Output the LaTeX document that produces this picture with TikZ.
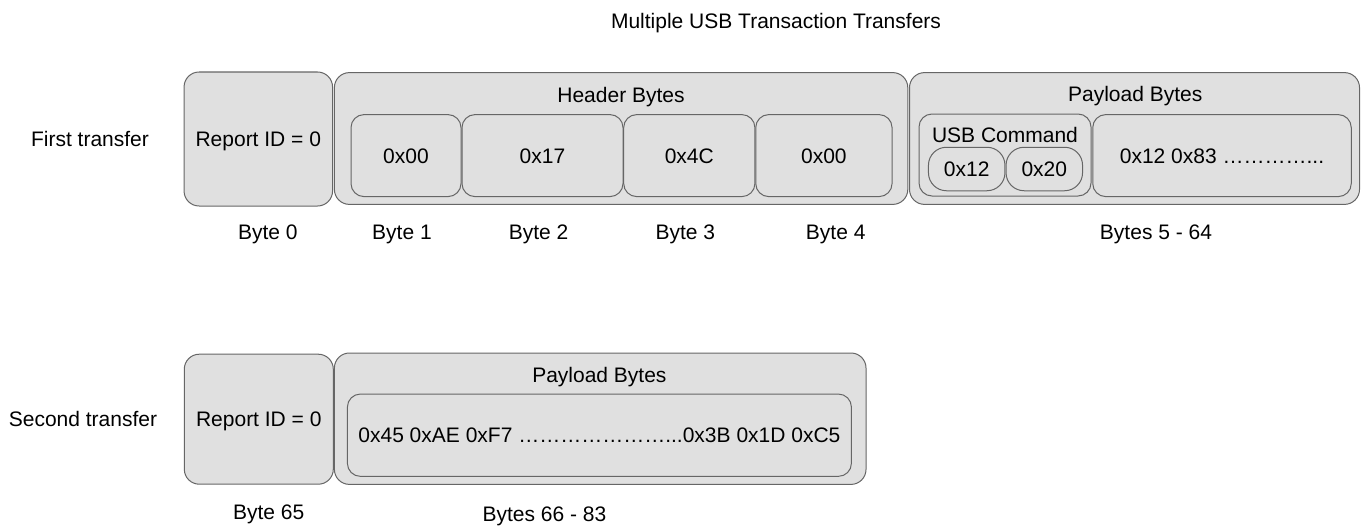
\documentclass[tikz,border=0pt]{standalone}
\usepackage{fontspec}
\setmainfont{Liberation Sans}
\definecolor{boxfill}{HTML}{E0E0E0}
\definecolor{boxline}{HTML}{666666}
\newcommand{\fsz}{\fontsize{21}{25}\selectfont}
\newcommand{\elp}{\char"2026\relax}
\begin{document}
\begin{tikzpicture}[x=1pt,y=-1pt,
  box/.style={draw=boxline, fill=boxfill, line width=1pt, rounded corners=15pt, inner sep=0pt},
  ibox/.style={box, rounded corners=13pt},
  pill/.style={box, rounded corners=18pt},
  lbl/.style={font=\fsz, text height=15pt, text depth=0pt, inner sep=0pt, align=center},
]
\useasboundingbox (0,0) rectangle (1362,527);

\node[lbl] (title) at (776,21) {Multiple USB Transaction Transfers};

% ---- First transfer ----
\node[lbl] (first) at (90,138.5) {First transfer};
\node[box, lbl, minimum width=148.5pt, minimum height=134pt] (rep1) at (258.3,139) {Report ID = 0};
\node[box, minimum width=573.4pt, minimum height=131.8pt] (hdr) at (621.1,138.5) {};
\node[lbl] (hdrt) at (621,94.5) {Header Bytes};
\node[ibox, lbl, minimum width=110pt, minimum height=82pt] (b1) at (406,155.6) {0x00};
\node[ibox, lbl, minimum width=161pt, minimum height=82pt] (b2) at (542.5,155.6) {0x17};
\node[ibox, lbl, minimum width=131.2pt, minimum height=82pt] (b3) at (689.3,155.6) {0x4C};
\node[ibox, lbl, minimum width=136.3pt, minimum height=82pt] (b4) at (823.9,155.6) {0x00};

\node[box, minimum width=450pt, minimum height=131.8pt] (pay1) at (1134.5,138.5) {};
\node[lbl] (pay1t) at (1135.2,94) {Payload Bytes};
\node[ibox, minimum width=172pt, minimum height=82pt] (usb) at (1005,155) {};
\node[lbl] (usbt) at (1005,135) {USB Command};
\node[pill, lbl, minimum width=76.5pt, minimum height=43.5pt] (c1) at (966.7,169) {0x12};
\node[pill, lbl, minimum width=76.5pt, minimum height=43.5pt] (c2) at (1044.3,169) {0x20};
\node[ibox, lbl, minimum width=258.5pt, minimum height=82pt] (d1) at (1222,155.6) {0x12 0x83 \elp\elp\elp\elp...};

\node[lbl] (l0) at (267.8,232) {Byte 0};
\node[lbl] (l1) at (402,232) {Byte 1};
\node[lbl] (l2) at (538.6,232) {Byte 2};
\node[lbl] (l3) at (685.4,232) {Byte 3};
\node[lbl] (l4) at (835.7,232) {Byte 4};
\node[lbl] (l5) at (1156,232) {Bytes 5 - 64};

% ---- Second transfer ----
\node[lbl] (second) at (83,419) {Second transfer};
\node[box, lbl, minimum width=149pt, minimum height=130pt] (rep2) at (258.8,419.2) {Report ID = 0};
\node[box, minimum width=531.6pt, minimum height=131.4pt] (pay2) at (600.2,418.7) {};
\node[lbl] (pay2t) at (599.4,374.5) {Payload Bytes};
\node[ibox, lbl, minimum width=504pt, minimum height=82.3pt] (d2) at (599.4,435.2) {0x45 0xAE 0xF7 \elp\elp\elp\elp\elp\elp\elp...0x3B 0x1D 0xC5};

\node[lbl] (l65) at (268.7,511.7) {Byte 65};
\node[lbl] (l66) at (544.5,514.3) {Bytes 66 - 83};
\end{tikzpicture}
\end{document}
